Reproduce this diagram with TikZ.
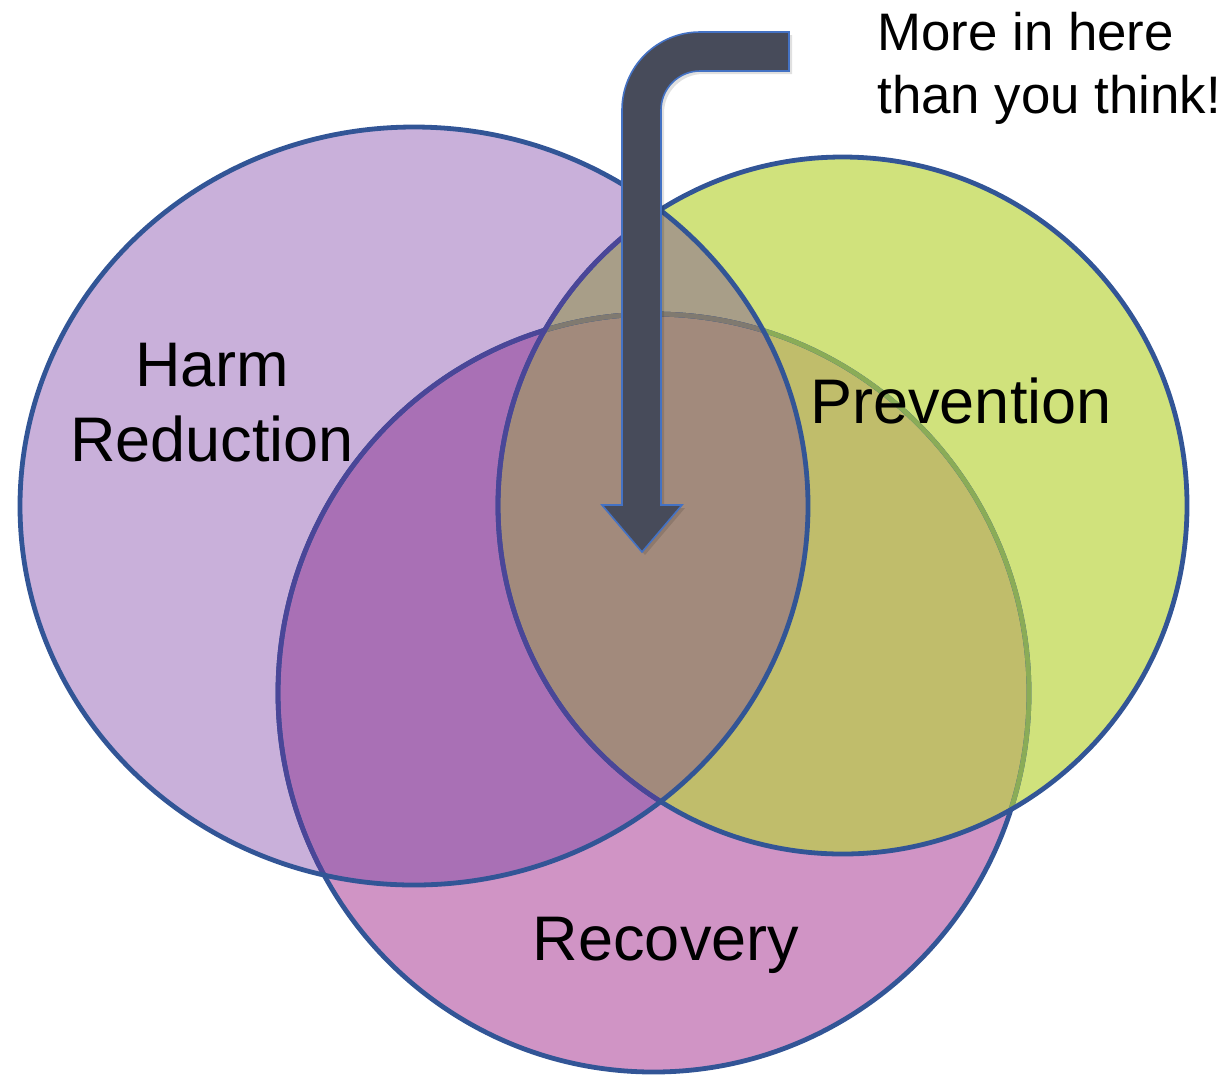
\documentclass[tikz,border=0pt]{standalone}
\usepackage{fontspec}
\setmainfont{Liberation Sans}
\begin{document}
\begin{tikzpicture}[x=0.5pt,y=0.5pt,
  edge/.style={line width=2.4pt},
  lbl/.style={inner sep=0pt,font=\fontsize{31.5}{37.5}\selectfont,align=center,anchor=base},
]
\definecolor{harmc}{HTML}{C9B0DA}
\definecolor{prevc}{HTML}{D0E27C}
\definecolor{recc}{HTML}{D094C5}
\definecolor{hrc}{HTML}{A970B5}
\definecolor{prc}{HTML}{C0BD6B}
\definecolor{hpc}{HTML}{A89E88}
\definecolor{hprc}{HTML}{A28A7C}
\definecolor{bordc}{RGB}{50,85,150}
\definecolor{bordh}{RGB}{74,70,152}
\definecolor{bordp}{RGB}{138,172,87}
\definecolor{bordhp}{RGB}{128,122,112}
\definecolor{arrowc}{HTML}{474B5A}
\definecolor{arrowl}{HTML}{4472C4}
\useasboundingbox (0,0) rectangle (1230,-1078);
\def\harm{(414,-506) ellipse [x radius=197pt, y radius=189.5pt]}
\def\prev{(842.5,-505.5) ellipse [x radius=172.25pt, y radius=174.25pt]}
\def\rec{(653.5,-693) ellipse [x radius=187.75pt, y radius=189.5pt]}
% base fills
\fill[harmc] \harm;
\fill[prevc] \prev;
\fill[recc] \rec;
% pairwise / triple overlaps
\begin{scope}
  \clip \prev;
  \fill[prc] \rec;
\end{scope}
\begin{scope}
  \clip \harm;
  \fill[hrc] \rec;
  \fill[hpc] \prev;
  \clip \prev;
  \fill[hprc] \rec;
\end{scope}
% recovery border with tints
\draw[edge,bordc] \rec;
\begin{scope}
  \clip \prev;
  \draw[edge,bordp] \rec;
\end{scope}
\begin{scope}
  \clip \harm;
  \draw[edge,bordh] \rec;
  \clip \prev;
  \draw[edge,bordhp] \rec;
\end{scope}
% prevention border
\draw[edge,bordc] \prev;
\begin{scope}
  \clip \harm;
  \draw[edge,bordh] \prev;
\end{scope}
% harm reduction border
\draw[edge,bordc] \harm;
% labels
\node[lbl] (harmlbl) at (212,-461) {Harm\\Reduction};
\node[lbl] (prevlbl) at (961,-423) {Prevention};
\node[lbl] (reclbl) at (666,-960) {Recovery};
\node[inner sep=0pt,anchor=base west,align=left,font=\fontsize{26.4}{31.5}\selectfont] (note) at (877,-113) {More in here\\than you think!};
% bent arrow
\fill[black,opacity=0.12] (792,-35) -- (703,-35) arc[start angle=90,end angle=180,radius=39pt] -- (625,-508) -- (605,-508) -- (645,-555) -- (685,-508) -- (664,-508) -- (664,-113) arc[start angle=180,end angle=90,radius=19.5pt] -- (792,-74) -- cycle;
\filldraw[fill=arrowc,draw=arrowl,line width=0.8pt,line join=miter] (789,-32) -- (700,-32) arc[start angle=90,end angle=180,radius=39pt] -- (622,-505) -- (602,-505) -- (642,-552) -- (682,-505) -- (661,-505) -- (661,-110) arc[start angle=180,end angle=90,radius=19.5pt] -- (789,-71) -- cycle;
\end{tikzpicture}
\end{document}
